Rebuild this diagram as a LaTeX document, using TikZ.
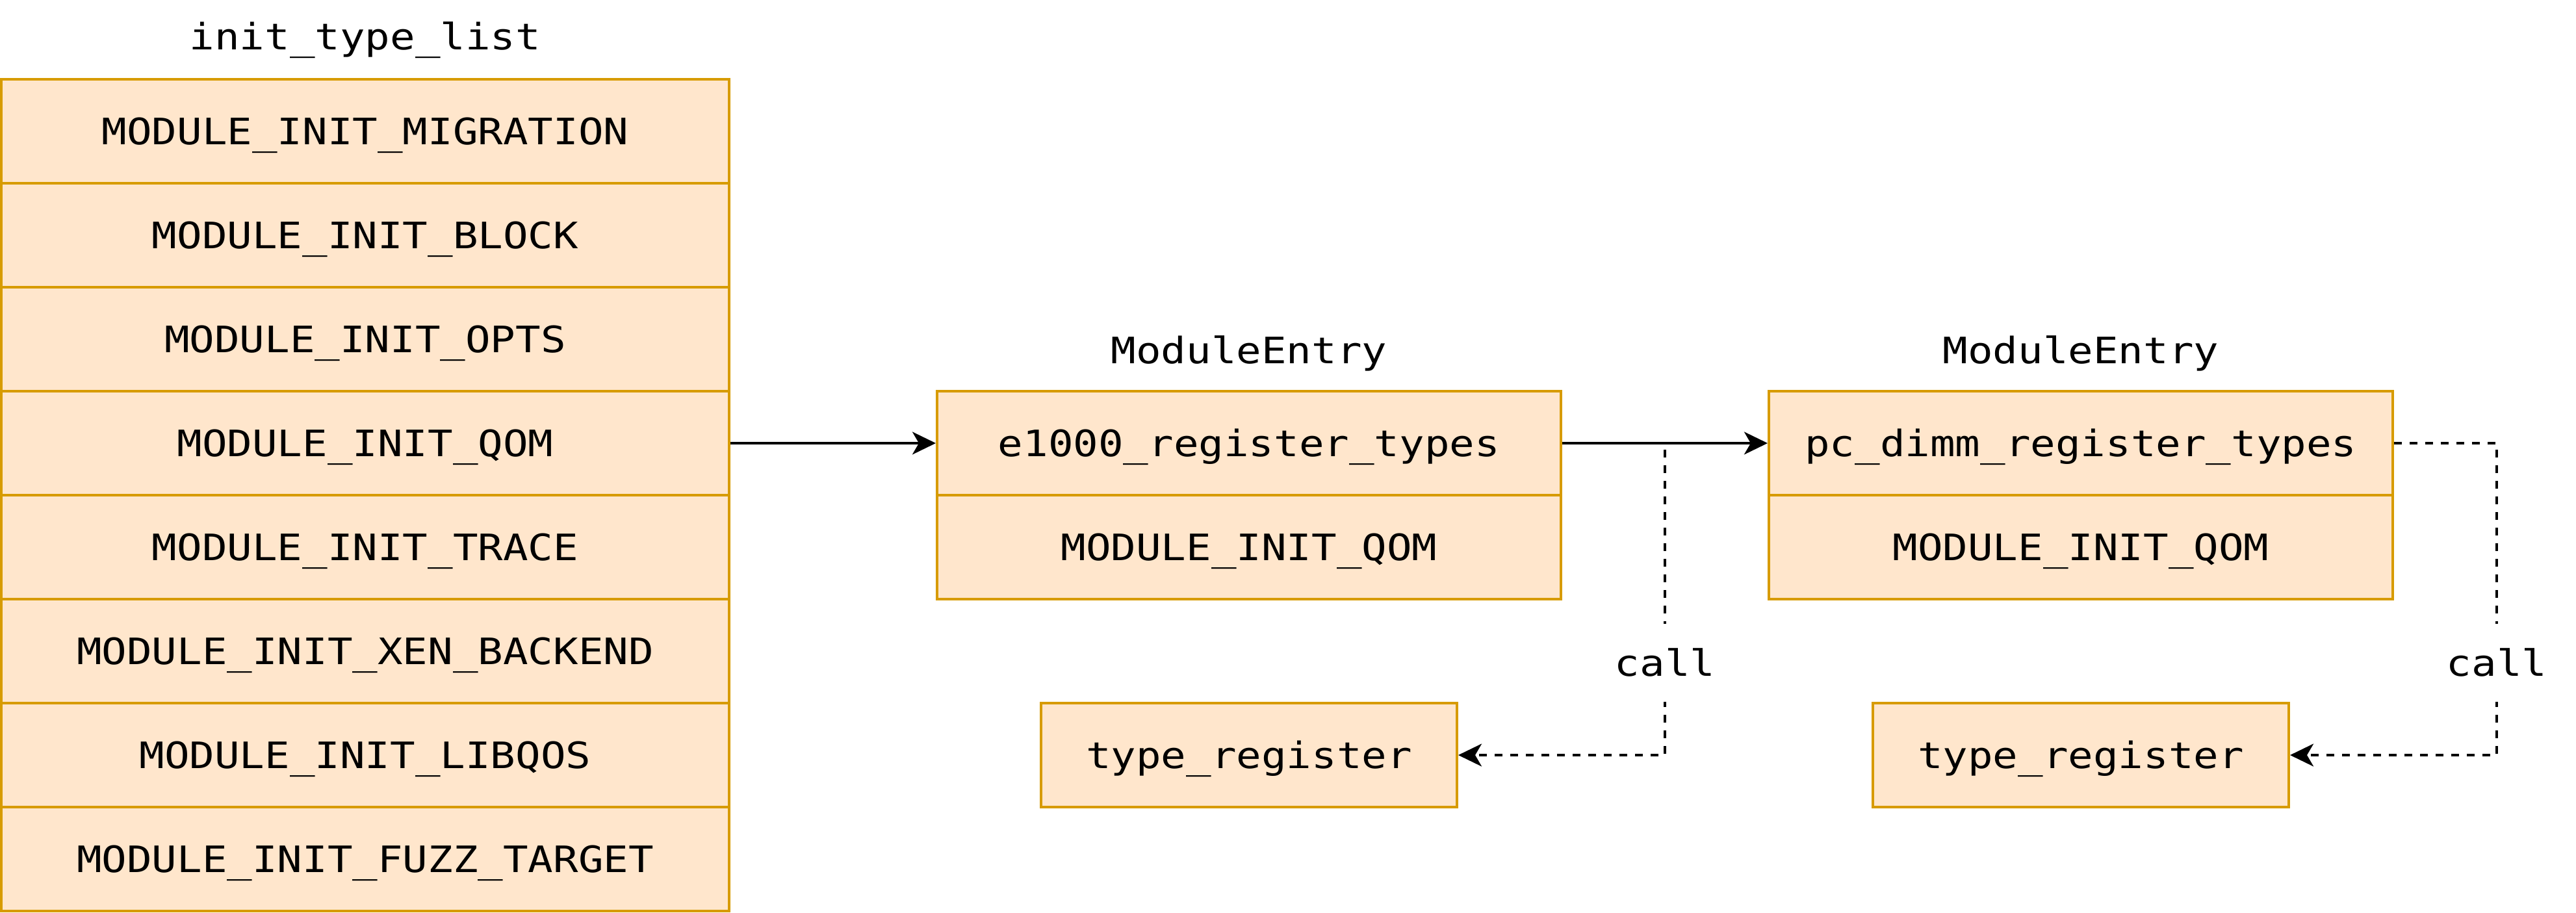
\documentclass[tikz,border=0pt]{standalone}
\usepackage{fontspec}
\setmonofont[FakeStretch=1.145]{DejaVu Sans Mono}
\usetikzlibrary{arrows.meta}
\definecolor{cellfill}{HTML}{FFE6CC}
\definecolor{celldraw}{HTML}{D79B00}
\begin{document}
\begin{tikzpicture}[x=1pt,y=1pt,
  every node/.style={font=\ttfamily\fontsize{14pt}{16pt}\selectfont, text height=10.2pt, text depth=0pt},
  cell/.style={draw=celldraw, fill=cellfill, line width=1pt, inner sep=0pt, minimum height=40pt},
  listcell/.style={cell, minimum width=280pt},
  entrycell/.style={cell, minimum width=240pt},
  regcell/.style={cell, minimum width=160pt},
  title/.style={inner sep=0pt},
  lbl/.style={fill=white, inner xsep=3pt, inner ysep=0pt, minimum height=30pt},
  solidconn/.style={line width=1pt, -{Stealth[length=9pt,width=8.7pt,inset=2.5pt]}},
  dashconn/.style={line width=1pt, dash pattern=on 3pt off 3pt, -{Stealth[length=9pt,width=8.7pt,inset=2.5pt]}}
]
\useasboundingbox (0,0) rectangle (991,-351);

% init_type_list
\node[title] (ltitle) at (140.5,-13.95) {init\_type\_list};
\node[listcell] (l1) at (140.5,-50.5) {MODULE\_INIT\_MIGRATION};
\node[listcell] (l2) at (140.5,-90.5) {MODULE\_INIT\_BLOCK};
\node[listcell] (l3) at (140.5,-130.5) {MODULE\_INIT\_OPTS};
\node[listcell] (l4) at (140.5,-170.5) {MODULE\_INIT\_QOM};
\node[listcell] (l5) at (140.5,-210.5) {MODULE\_INIT\_TRACE};
\node[listcell] (l6) at (140.5,-250.5) {MODULE\_INIT\_XEN\_BACKEND};
\node[listcell] (l7) at (140.5,-290.5) {MODULE\_INIT\_LIBQOS};
\node[listcell] (l8) at (140.5,-330.5) {MODULE\_INIT\_FUZZ\_TARGET};

% ModuleEntry 1
\node[title] (m1title) at (480.5,-134.75) {ModuleEntry};
\node[entrycell] (m1a) at (480.5,-170.5) {e1000\_register\_types};
\node[entrycell] (m1b) at (480.5,-210.5) {MODULE\_INIT\_QOM};

% ModuleEntry 2
\node[title] (m2title) at (800.5,-134.75) {ModuleEntry};
\node[entrycell] (m2a) at (800.5,-170.5) {pc\_dimm\_register\_types};
\node[entrycell] (m2b) at (800.5,-210.5) {MODULE\_INIT\_QOM};

% type_register boxes
\node[regcell] (t1) at (480.5,-290.5) {type\_register};
\node[regcell] (t2) at (800.5,-290.5) {type\_register};

% dashed call connectors
\coordinate (c1) at (640.5,-170.5);
\coordinate (c2) at (960.5,-170.5);
\draw[dashconn] (m1a.east) -- (c1) |- (t1.east);
\draw[dashconn] (m2a.east) -- (c2) |- (t2.east);
\node[lbl] (call1) at (640.5,-255) {call};
\node[lbl] (call2) at (960.5,-255) {call};

% solid connectors
\draw[solidconn] (l4.east) -- (m1a.west);
\draw[solidconn] (m1a.east) -- (m2a.west);
\end{tikzpicture}
\end{document}
